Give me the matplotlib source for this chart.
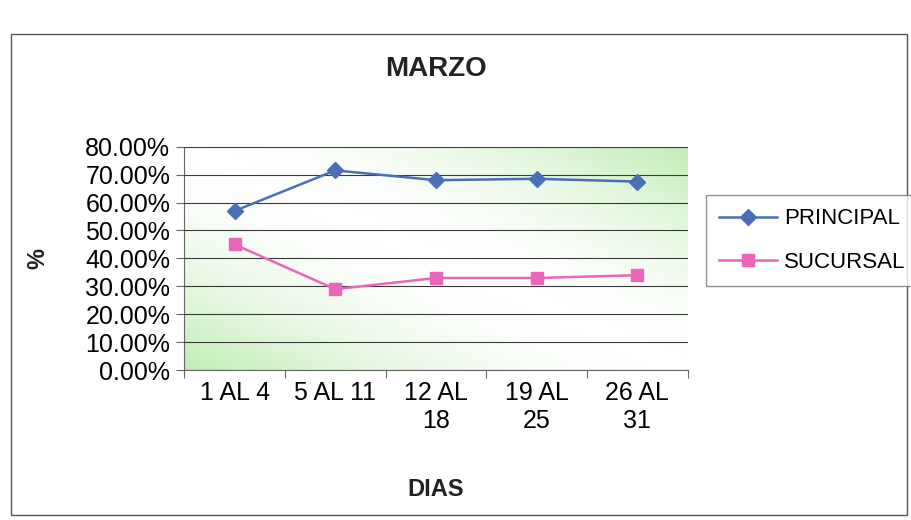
#!/usr/bin/env python3
# -*- coding: utf-8 -*-
# Grafico de lineas MARZO: PRINCIPAL vs SUCURSAL

import numpy as np
import matplotlib.pyplot as plt
from matplotlib.colors import LinearSegmentedColormap
from matplotlib.patches import Rectangle

plt.rcParams['font.family'] = ['Liberation Sans', 'DejaVu Sans']

dias = ["1 AL 4", "5 AL 11", "12 AL\n18", "19 AL\n25", "26 AL\n31"]
principal = [0.57, 0.715, 0.68, 0.685, 0.675]
sucursal = [0.45, 0.29, 0.33, 0.33, 0.34]
y_ticks = [0.0, 0.1, 0.2, 0.3, 0.4, 0.5, 0.6, 0.7, 0.8]

fig = plt.figure(figsize=(9.12, 5.2), dpi=100)
fig.patch.set_facecolor('white')

# borde del area del grafico
fig.patches.append(Rectangle((0.012, 0.01), 0.982, 0.925, transform=fig.transFigure,
                             fill=False, edgecolor='#555555', linewidth=1.0))

ax = fig.add_axes([0.202, 0.288, 0.552, 0.43])

# fondo degradado verde (esquinas) a blanco (centro)
gx, gy = np.meshgrid(np.linspace(0, 1, 300), np.linspace(0, 1, 200))
grad = np.abs(gx + gy - 1.0) ** 1.8
cmap = LinearSegmentedColormap.from_list('verde', ['#ffffff', '#c0edb4'])
ax.imshow(grad, extent=[0, 5, 0, 0.8], origin='lower', aspect='auto',
          cmap=cmap, vmin=0, vmax=1, zorder=0)

x = np.arange(len(dias)) + 0.5
ax.plot(x, principal, color='#4a6fb8', marker='D', markersize=8,
        linewidth=1.8, label='PRINCIPAL', zorder=3)
ax.plot(x, sucursal, color='#ea66b8', marker='s', markersize=9,
        linewidth=1.8, label='SUCURSAL', zorder=3)

ax.set_xlim(0, 5)
ax.set_ylim(0, 0.8)
ax.set_yticks(y_ticks)
ax.set_yticklabels(["%.2f%%" % (v * 100) for v in y_ticks], fontsize=18)
ax.yaxis.grid(True, color='#3a3a3a', linewidth=0.8)
ax.set_axisbelow(False)

ax.set_xticks(np.arange(0, 6))
ax.set_xticklabels([])
ax.set_xticks(x, minor=True)
ax.set_xticklabels(dias, minor=True, fontsize=18)
ax.tick_params(axis='x', which='minor', length=0, pad=8)
ax.tick_params(axis='x', which='major', length=6, color='#666666')
ax.tick_params(axis='y', length=6, color='#666666', pad=4)

for s in ['top', 'right']:
    ax.spines[s].set_visible(False)
for s in ['left', 'bottom']:
    ax.spines[s].set_color('#666666')

ax.set_title("MARZO", fontsize=20, fontweight='bold', pad=51, color='#222222')
ax.set_xlabel("DIAS", fontsize=17, fontweight='bold', labelpad=32, color='#222222')
ax.set_ylabel("%", fontsize=17, fontweight='bold', labelpad=26, color='#222222')

leg = fig.legend(loc='upper left', bbox_to_anchor=(706 / 912, 1 - 195 / 520),
                 fontsize=16, frameon=True, fancybox=False, edgecolor='#777777',
                 handlelength=2.6, handletextpad=0.3, borderpad=0.6,
                 labelspacing=1.0, borderaxespad=0)
leg.get_frame().set_linewidth(1.0)

plt.savefig('out.png', dpi=100)
